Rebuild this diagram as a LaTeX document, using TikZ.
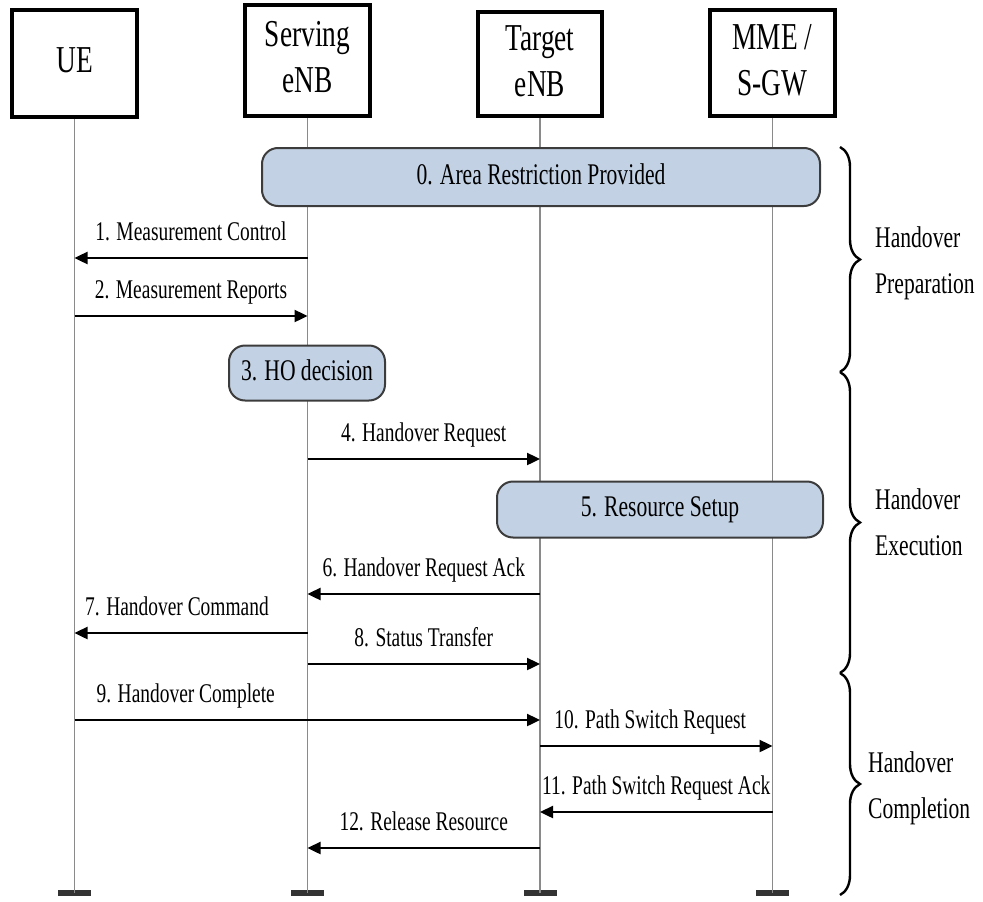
\documentclass[tikz,border=0pt]{standalone}
\usepackage{fontspec}
\setmainfont{Liberation Serif}
\usetikzlibrary{arrows.meta,decorations.pathreplacing}
\definecolor{actfill}{HTML}{C2D1E4}
\definecolor{actline}{HTML}{3C3C3C}
\definecolor{lifegray}{HTML}{8A8A8A}
% condensed setting of a text, one or more centred lines
\newcommand\narrowtxt[1]{\scalebox{0.72}[1]{\begin{tabular}{@{}c@{}}#1\end{tabular}}}
\newcommand\narrowleft[1]{\scalebox{0.72}[1]{\begin{tabular}{@{}l@{}}#1\end{tabular}}}
\tikzset{
  hdr/.style={draw=black, line width=3.6pt, fill=white, inner sep=0pt,
    font=\fontsize{38}{46}\selectfont},
  life/.style={draw=lifegray, line width=1.1pt},
  endbar/.style={fill=black!80, draw=none, minimum width=33pt, minimum height=6pt, inner sep=0pt},
  act/.style={draw=actline, line width=2pt, fill=actfill, rounded corners=16pt, inner sep=0pt,
    font=\fontsize{30}{36}\selectfont},
  msg/.style={draw=black, line width=2.4pt, -{Triangle[length=13pt,width=12pt]}},
  lbl/.style={inner sep=0pt, above=7pt, font=\fontsize{27}{32}\selectfont},
  phase/.style={anchor=west, inner sep=0pt, font=\fontsize{30}{46}\selectfont},
  phasebrace/.style={draw=black, line width=2.4pt, decorate,
    decoration={brace, amplitude=20pt}},
}
\begin{document}
\begin{tikzpicture}[x=1pt, y=-1pt]
\useasboundingbox (0,0) rectangle (983,902);

% participants
\node[hdr, minimum width=125pt, minimum height=107pt] (ue) at (74.5,63.5) {\narrowtxt{UE}};
\node[hdr, minimum width=125pt, minimum height=111pt] (se) at (307.5,60.5) {\narrowtxt{Serving\\eNB}};
\node[hdr, minimum width=124pt, minimum height=104pt] (te) at (540,64) {\narrowtxt{Target\\eNB}};
\node[hdr, minimum width=125pt, minimum height=106pt] (mm) at (772.5,63) {\narrowtxt{MME /\\S-GW}};

% lifeline ends
\node[endbar] (ueb) at (ue.south |- 0,893) {};
\node[endbar] (seb) at (se.south |- 0,893) {};
\node[endbar] (teb) at (te.south |- 0,893) {};
\node[endbar] (mmb) at (mm.south |- 0,893) {};

% lifelines
\draw[life] (ue.south) -- (ueb.center);
\draw[life] (se.south) -- (seb.center);
\draw[life] (te.south) -- (teb.center);
\draw[life] (mm.south) -- (mmb.center);

% activities
\node[act, minimum width=558pt, minimum height=58pt] (a0) at (541,177) {\narrowtxt{0. Area Restriction Provided}};
\node[act, minimum width=156pt, minimum height=55pt] (a3) at (307,373) {\narrowtxt{3. HO decision}};
\node[act, minimum width=326pt, minimum height=56pt] (a5) at (660,509.5) {\narrowtxt{5. Resource Setup}};

% messages
\draw[msg] (se |- 0,258) -- node[lbl] {\narrowtxt{1. Measurement Control}} (ue |- 0,258);
\draw[msg] (ue |- 0,316) -- node[lbl] {\narrowtxt{2. Measurement Reports}} (se |- 0,316);
\draw[msg] (se |- 0,459) -- node[lbl] {\narrowtxt{4. Handover Request}} (te |- 0,459);
\draw[msg] (te |- 0,594) -- node[lbl] {\narrowtxt{6. Handover Request Ack}} (se |- 0,594);
\draw[msg] (se |- 0,633) -- node[lbl, xshift=-14pt] {\narrowtxt{7. Handover Command}} (ue |- 0,633);
\draw[msg] (se |- 0,664) -- node[lbl] {\narrowtxt{8. Status Transfer}} (te |- 0,664);
\draw[msg] (ue |- 0,720) -- node[lbl, pos=0.239] {\narrowtxt{9. Handover Complete}} (te |- 0,720);
\draw[msg] (te |- 0,746) -- node[lbl, xshift=-6pt] {\narrowtxt{10. Path Switch Request}} (mm |- 0,746);
\draw[msg] (mm |- 0,812) -- node[lbl] {\narrowtxt{11. Path Switch Request Ack}} (te |- 0,812);
\draw[msg] (te |- 0,848) -- node[lbl] {\narrowtxt{12. Release Resource}} (se |- 0,848);

% phases
\coordinate (p0) at (840,147);
\coordinate (p1) at (840,372);
\coordinate (p2) at (840,673);
\coordinate (p3) at (840,895);
\draw[phasebrace] (p0) -- (p1);
\draw[phasebrace] (p1) -- (p2);
\draw[phasebrace] (p2) -- (p3);
\node[phase] (ph1) at (875,261) {\narrowleft{Handover\\Preparation}};
\node[phase] (ph2) at (875,523) {\narrowleft{Handover\\Execution}};
\node[phase] (ph3) at (868,786) {\narrowleft{Handover\\Completion}};
\end{tikzpicture}
\end{document}
